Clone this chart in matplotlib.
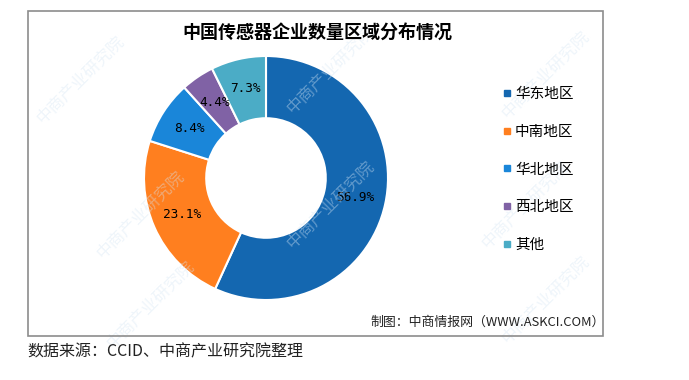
import matplotlib.pyplot as plt
from matplotlib.patches import Rectangle
from matplotlib.lines import Line2D

plt.rcParams['font.family'] = ['Noto Sans CJK SC', 'DejaVu Sans']

# Data
regions = ['华东地区', '中南地区', '华北地区', '西北地区', '其他']
shares = [56.9, 23.1, 8.4, 4.4, 7.3]
colors = ['#1467b0', '#ff7f1f', '#1a86d9', '#8062a5', '#4bacc6']

W, H = 689, 380
fig = plt.figure(figsize=(W / 100, H / 100), dpi=100)

# Frame around chart area
fig.patches.append(Rectangle((28 / W, 1 - 336 / H), (603 - 28) / W, (336 - 11) / H,
                             transform=fig.transFigure, fill=False,
                             edgecolor='#8c8c8c', linewidth=1.2))

# Faint watermarks
for (wx, wy) in [(80, 80), (330, 70), (545, 75), (140, 215), (330, 205), (525, 205),
                 (150, 305), (545, 300)]:
    fig.text(wx / W, 1 - wy / H, '中商产业研究院', rotation=45, fontsize=12,
             color='#d6e6f4', alpha=0.4, ha='center', va='center', zorder=0)

# Donut
cx, cy, r = 266, 178, 122
ax = fig.add_axes([(cx - r) / W, (H - cy - r) / H, 2 * r / W, 2 * r / H])
pct_iter = iter(shares)
wedges, texts, autotexts = ax.pie(
    shares, colors=colors, startangle=90, counterclock=False,
    autopct=lambda p: f'{next(pct_iter):.1f}%', pctdistance=0.75, radius=1,
    wedgeprops=dict(width=0.51, edgecolor='white', linewidth=1.5),
    textprops=dict(fontsize=9.2, color='black', family='DejaVu Sans Mono'))
ax.set_xlim(-1, 1)
ax.set_ylim(-1, 1)
ax.set_aspect('equal')
ax.axis('off')

# Title
fig.text(317 / W, 1 - 32 / H, '中国传感器企业数量区域分布情况', fontsize=13,
         fontweight='bold', ha='center', va='center')

# Legend
handles = [Line2D([], [], marker='s', linestyle='none', markersize=4,
                  markerfacecolor=c, markeredgecolor=c) for c in colors]
fig.legend(handles, regions, loc='upper left', bbox_to_anchor=(496 / W, 1 - 80 / H),
           frameon=False, fontsize=10.5, labelspacing=1.62, handlelength=0.5,
           handletextpad=0.3, borderpad=0)

# Credit inside frame
fig.text(370 / W, 1 - 322 / H, '制图：中商情报网（WWW.ASKCI.COM）', fontsize=9.3,
         ha='left', va='center', color='#222222')

# Source note
fig.text(27 / W, 1 - 352 / H, '数据来源：CCID、中商产业研究院整理', fontsize=11.5,
         ha='left', va='center', color='#222222')

fig.savefig('out.png', dpi=100)
